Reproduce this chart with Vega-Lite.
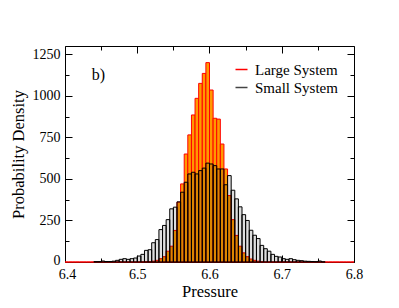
{
  "$schema": "https://vega.github.io/schema/vega-lite/v6.json",
  "width": 289,
  "height": 216,
  "autosize": {"type": "none"},
  "padding": {"left": 65, "top": 46, "right": 45, "bottom": 46},
  "background": "white",
  "config": {
    "font": "Liberation Serif",
    "view": {"stroke": "black", "strokeWidth": 1},
    "axis": {
      "domain": false,
      "grid": false,
      "tickColor": "black",
      "tickWidth": 1,
      "labelColor": "black",
      "titleColor": "black",
      "labelFont": "Liberation Serif",
      "titleFont": "Liberation Serif",
      "labelFontSize": 14,
      "titleFontSize": 16.5,
      "titleFontWeight": "normal",
      "labelFlush": false,
      "labelOverlap": false
    }
  },
  "data": {
    "values": [
      {"series": "Large System", "lo": 6.400, "hi": 6.405, "density": 0},
      {"series": "Large System", "lo": 6.405, "hi": 6.410, "density": 0},
      {"series": "Large System", "lo": 6.410, "hi": 6.415, "density": 0},
      {"series": "Large System", "lo": 6.415, "hi": 6.420, "density": 0},
      {"series": "Large System", "lo": 6.420, "hi": 6.425, "density": 0},
      {"series": "Large System", "lo": 6.425, "hi": 6.430, "density": 0},
      {"series": "Large System", "lo": 6.430, "hi": 6.435, "density": 0},
      {"series": "Large System", "lo": 6.435, "hi": 6.440, "density": 0},
      {"series": "Large System", "lo": 6.440, "hi": 6.445, "density": 0},
      {"series": "Large System", "lo": 6.445, "hi": 6.450, "density": 0},
      {"series": "Large System", "lo": 6.450, "hi": 6.455, "density": 0},
      {"series": "Large System", "lo": 6.455, "hi": 6.460, "density": 0},
      {"series": "Large System", "lo": 6.460, "hi": 6.465, "density": 0},
      {"series": "Large System", "lo": 6.465, "hi": 6.470, "density": 0},
      {"series": "Large System", "lo": 6.470, "hi": 6.475, "density": 0},
      {"series": "Large System", "lo": 6.475, "hi": 6.480, "density": 0},
      {"series": "Large System", "lo": 6.480, "hi": 6.485, "density": 0},
      {"series": "Large System", "lo": 6.485, "hi": 6.490, "density": 0},
      {"series": "Large System", "lo": 6.490, "hi": 6.495, "density": 0},
      {"series": "Large System", "lo": 6.495, "hi": 6.500, "density": 0},
      {"series": "Large System", "lo": 6.500, "hi": 6.505, "density": 0},
      {"series": "Large System", "lo": 6.505, "hi": 6.510, "density": 1},
      {"series": "Large System", "lo": 6.510, "hi": 6.515, "density": 2},
      {"series": "Large System", "lo": 6.515, "hi": 6.520, "density": 3},
      {"series": "Large System", "lo": 6.520, "hi": 6.525, "density": 5},
      {"series": "Large System", "lo": 6.525, "hi": 6.530, "density": 10},
      {"series": "Large System", "lo": 6.530, "hi": 6.535, "density": 20},
      {"series": "Large System", "lo": 6.535, "hi": 6.540, "density": 32},
      {"series": "Large System", "lo": 6.540, "hi": 6.545, "density": 65},
      {"series": "Large System", "lo": 6.545, "hi": 6.550, "density": 95},
      {"series": "Large System", "lo": 6.550, "hi": 6.555, "density": 190},
      {"series": "Large System", "lo": 6.555, "hi": 6.560, "density": 360},
      {"series": "Large System", "lo": 6.560, "hi": 6.565, "density": 470},
      {"series": "Large System", "lo": 6.565, "hi": 6.570, "density": 650},
      {"series": "Large System", "lo": 6.570, "hi": 6.575, "density": 765},
      {"series": "Large System", "lo": 6.575, "hi": 6.580, "density": 885},
      {"series": "Large System", "lo": 6.580, "hi": 6.585, "density": 985},
      {"series": "Large System", "lo": 6.585, "hi": 6.590, "density": 1075},
      {"series": "Large System", "lo": 6.590, "hi": 6.595, "density": 1135},
      {"series": "Large System", "lo": 6.595, "hi": 6.600, "density": 1200},
      {"series": "Large System", "lo": 6.600, "hi": 6.605, "density": 1035},
      {"series": "Large System", "lo": 6.605, "hi": 6.610, "density": 865},
      {"series": "Large System", "lo": 6.610, "hi": 6.615, "density": 860},
      {"series": "Large System", "lo": 6.615, "hi": 6.620, "density": 710},
      {"series": "Large System", "lo": 6.620, "hi": 6.625, "density": 560},
      {"series": "Large System", "lo": 6.625, "hi": 6.630, "density": 400},
      {"series": "Large System", "lo": 6.630, "hi": 6.635, "density": 255},
      {"series": "Large System", "lo": 6.635, "hi": 6.640, "density": 160},
      {"series": "Large System", "lo": 6.640, "hi": 6.645, "density": 95},
      {"series": "Large System", "lo": 6.645, "hi": 6.650, "density": 55},
      {"series": "Large System", "lo": 6.650, "hi": 6.655, "density": 32},
      {"series": "Large System", "lo": 6.655, "hi": 6.660, "density": 18},
      {"series": "Large System", "lo": 6.660, "hi": 6.665, "density": 10},
      {"series": "Large System", "lo": 6.665, "hi": 6.670, "density": 5},
      {"series": "Large System", "lo": 6.670, "hi": 6.675, "density": 2},
      {"series": "Large System", "lo": 6.675, "hi": 6.680, "density": 0},
      {"series": "Large System", "lo": 6.680, "hi": 6.685, "density": 0},
      {"series": "Large System", "lo": 6.685, "hi": 6.690, "density": 0},
      {"series": "Large System", "lo": 6.690, "hi": 6.695, "density": 0},
      {"series": "Large System", "lo": 6.695, "hi": 6.700, "density": 0},
      {"series": "Large System", "lo": 6.700, "hi": 6.705, "density": 0},
      {"series": "Large System", "lo": 6.705, "hi": 6.710, "density": 0},
      {"series": "Large System", "lo": 6.710, "hi": 6.715, "density": 0},
      {"series": "Large System", "lo": 6.715, "hi": 6.720, "density": 0},
      {"series": "Large System", "lo": 6.720, "hi": 6.725, "density": 0},
      {"series": "Large System", "lo": 6.725, "hi": 6.730, "density": 0},
      {"series": "Large System", "lo": 6.730, "hi": 6.735, "density": 0},
      {"series": "Large System", "lo": 6.735, "hi": 6.740, "density": 0},
      {"series": "Large System", "lo": 6.740, "hi": 6.745, "density": 0},
      {"series": "Large System", "lo": 6.745, "hi": 6.750, "density": 0},
      {"series": "Large System", "lo": 6.750, "hi": 6.755, "density": 0},
      {"series": "Large System", "lo": 6.755, "hi": 6.760, "density": 0},
      {"series": "Large System", "lo": 6.760, "hi": 6.765, "density": 0},
      {"series": "Large System", "lo": 6.765, "hi": 6.770, "density": 0},
      {"series": "Large System", "lo": 6.770, "hi": 6.775, "density": 0},
      {"series": "Large System", "lo": 6.775, "hi": 6.780, "density": 0},
      {"series": "Large System", "lo": 6.780, "hi": 6.785, "density": 0},
      {"series": "Large System", "lo": 6.785, "hi": 6.790, "density": 0},
      {"series": "Large System", "lo": 6.790, "hi": 6.795, "density": 0},
      {"series": "Large System", "lo": 6.795, "hi": 6.800, "density": 0},
      {"series": "Small System", "lo": 6.440, "hi": 6.445, "density": 2},
      {"series": "Small System", "lo": 6.445, "hi": 6.450, "density": 2},
      {"series": "Small System", "lo": 6.450, "hi": 6.455, "density": 6},
      {"series": "Small System", "lo": 6.455, "hi": 6.460, "density": 3},
      {"series": "Small System", "lo": 6.460, "hi": 6.465, "density": 3},
      {"series": "Small System", "lo": 6.465, "hi": 6.470, "density": 5},
      {"series": "Small System", "lo": 6.470, "hi": 6.475, "density": 10},
      {"series": "Small System", "lo": 6.475, "hi": 6.480, "density": 16},
      {"series": "Small System", "lo": 6.480, "hi": 6.485, "density": 20},
      {"series": "Small System", "lo": 6.485, "hi": 6.490, "density": 16},
      {"series": "Small System", "lo": 6.490, "hi": 6.495, "density": 20},
      {"series": "Small System", "lo": 6.495, "hi": 6.500, "density": 24},
      {"series": "Small System", "lo": 6.500, "hi": 6.505, "density": 36},
      {"series": "Small System", "lo": 6.505, "hi": 6.510, "density": 46},
      {"series": "Small System", "lo": 6.510, "hi": 6.515, "density": 70},
      {"series": "Small System", "lo": 6.515, "hi": 6.520, "density": 74},
      {"series": "Small System", "lo": 6.520, "hi": 6.525, "density": 116},
      {"series": "Small System", "lo": 6.525, "hi": 6.530, "density": 135},
      {"series": "Small System", "lo": 6.530, "hi": 6.535, "density": 195},
      {"series": "Small System", "lo": 6.535, "hi": 6.540, "density": 220},
      {"series": "Small System", "lo": 6.540, "hi": 6.545, "density": 255},
      {"series": "Small System", "lo": 6.545, "hi": 6.550, "density": 320},
      {"series": "Small System", "lo": 6.550, "hi": 6.555, "density": 330},
      {"series": "Small System", "lo": 6.555, "hi": 6.560, "density": 362},
      {"series": "Small System", "lo": 6.560, "hi": 6.565, "density": 420},
      {"series": "Small System", "lo": 6.565, "hi": 6.570, "density": 480},
      {"series": "Small System", "lo": 6.570, "hi": 6.575, "density": 530},
      {"series": "Small System", "lo": 6.575, "hi": 6.580, "density": 540},
      {"series": "Small System", "lo": 6.580, "hi": 6.585, "density": 530},
      {"series": "Small System", "lo": 6.585, "hi": 6.590, "density": 550},
      {"series": "Small System", "lo": 6.590, "hi": 6.595, "density": 565},
      {"series": "Small System", "lo": 6.595, "hi": 6.600, "density": 595},
      {"series": "Small System", "lo": 6.600, "hi": 6.605, "density": 590},
      {"series": "Small System", "lo": 6.605, "hi": 6.610, "density": 580},
      {"series": "Small System", "lo": 6.610, "hi": 6.615, "density": 560},
      {"series": "Small System", "lo": 6.615, "hi": 6.620, "density": 560},
      {"series": "Small System", "lo": 6.620, "hi": 6.625, "density": 465},
      {"series": "Small System", "lo": 6.625, "hi": 6.630, "density": 520},
      {"series": "Small System", "lo": 6.630, "hi": 6.635, "density": 432},
      {"series": "Small System", "lo": 6.635, "hi": 6.640, "density": 380},
      {"series": "Small System", "lo": 6.640, "hi": 6.645, "density": 332},
      {"series": "Small System", "lo": 6.645, "hi": 6.650, "density": 285},
      {"series": "Small System", "lo": 6.650, "hi": 6.655, "density": 250},
      {"series": "Small System", "lo": 6.655, "hi": 6.660, "density": 191},
      {"series": "Small System", "lo": 6.660, "hi": 6.665, "density": 161},
      {"series": "Small System", "lo": 6.665, "hi": 6.670, "density": 141},
      {"series": "Small System", "lo": 6.670, "hi": 6.675, "density": 100},
      {"series": "Small System", "lo": 6.675, "hi": 6.680, "density": 80},
      {"series": "Small System", "lo": 6.680, "hi": 6.685, "density": 65},
      {"series": "Small System", "lo": 6.685, "hi": 6.690, "density": 46},
      {"series": "Small System", "lo": 6.690, "hi": 6.695, "density": 34},
      {"series": "Small System", "lo": 6.695, "hi": 6.700, "density": 30},
      {"series": "Small System", "lo": 6.700, "hi": 6.705, "density": 20},
      {"series": "Small System", "lo": 6.705, "hi": 6.710, "density": 16},
      {"series": "Small System", "lo": 6.710, "hi": 6.715, "density": 20},
      {"series": "Small System", "lo": 6.715, "hi": 6.720, "density": 14},
      {"series": "Small System", "lo": 6.720, "hi": 6.725, "density": 10},
      {"series": "Small System", "lo": 6.725, "hi": 6.730, "density": 8},
      {"series": "Small System", "lo": 6.730, "hi": 6.735, "density": 5},
      {"series": "Small System", "lo": 6.735, "hi": 6.740, "density": 4},
      {"series": "Small System", "lo": 6.740, "hi": 6.745, "density": 3},
      {"series": "Small System", "lo": 6.745, "hi": 6.750, "density": 2},
      {"series": "Small System", "lo": 6.750, "hi": 6.755, "density": 6},
      {"series": "Small System", "lo": 6.755, "hi": 6.760, "density": 1}
    ]
  },
  "layer": [
    {
      "transform": [{"filter": "datum.series === 'Large System'"}],
      "mark": {"type": "bar", "fill": "#ff9900", "strokeWidth": 1},
      "encoding": {
        "x": {
          "field": "lo", "type": "quantitative",
          "scale": {"domain": [6.4, 6.8], "nice": false, "zero": false},
          "axis": {"orient": "bottom", "values": [6.4, 6.5, 6.6, 6.7, 6.8], "format": ".1f", "tickSize": -7, "labelPadding": 12, "title": "Pressure", "titlePadding": 2,
                   "labelOffset": {"condition": {"test": "datum.value <= 6.41", "value": 2}, "value": 0}}
        },
        "x2": {"field": "hi"},
        "y": {
          "field": "density", "type": "quantitative",
          "scale": {"domain": [0, 1300], "nice": false},
          "axis": {"orient": "left", "values": [0, 250, 500, 750, 1000, 1250], "format": "d", "tickSize": -7, "labelPadding": 12, "title": "Probability Density", "titlePadding": 6,
                   "labelOffset": {"condition": {"test": "datum.value === 0", "value": -2}, "value": 0}}
        },
        "y2": {"datum": 0},
        "stroke": {
          "field": "series", "type": "nominal",
          "scale": {"domain": ["Large System", "Small System"], "range": ["#ff0000", "#444444"]},
          "legend": {
            "title": null, "orient": "top-right", "offset": 16,
            "symbolType": "stroke", "symbolSize": 144, "symbolStrokeWidth": 1.5,
            "symbolFillColor": "transparent",
            "labelFont": "Liberation Serif", "labelFontSize": 15, "labelColor": "black",
            "labelOffset": 6, "rowPadding": 2
          }
        }
      }
    },
    {
      "transform": [{"filter": "datum.series === 'Small System'"}],
      "mark": {"type": "bar", "fill": "black", "fillOpacity": 0.13, "stroke": "black", "strokeWidth": 1},
      "encoding": {
        "x": {"field": "lo", "type": "quantitative", "axis": {"orient": "top", "values": [6.4, 6.5, 6.6, 6.7, 6.8], "tickSize": -7, "labels": false, "title": null}},
        "x2": {"field": "hi"},
        "y": {"field": "density", "type": "quantitative", "axis": {"orient": "right", "values": [0, 250, 500, 750, 1000, 1250], "tickSize": -7, "labels": false, "title": null}},
        "y2": {"datum": 0}
      }
    },
    {
      "data": {"values": [{"label": "b)"}]},
      "mark": {"type": "text", "fontSize": 16, "font": "Liberation Serif", "align": "left", "baseline": "alphabetic", "color": "black"},
      "encoding": {
        "text": {"field": "label"},
        "x": {"datum": 6.437, "type": "quantitative", "axis": {"orient": "bottom", "values": [6.45, 6.55, 6.65, 6.75], "tickSize": -4, "labels": false, "title": null}},
        "y": {"datum": 1095, "type": "quantitative", "axis": {"orient": "left", "values": [125, 375, 625, 875, 1125], "tickSize": -4, "labels": false, "title": null}}
      }
    },
    {
      "transform": [{"filter": "datum.series === 'Small System'"}],
      "mark": {"type": "tick", "opacity": 0},
      "encoding": {
        "x": {"field": "lo", "type": "quantitative", "axis": {"orient": "top", "values": [6.45, 6.55, 6.65, 6.75], "tickSize": -4, "labels": false, "title": null}},
        "y": {"field": "density", "type": "quantitative", "axis": {"orient": "right", "values": [125, 375, 625, 875, 1125], "tickSize": -4, "labels": false, "title": null}}
      }
    }
  ],
  "resolve": {"axis": {"x": "independent", "y": "independent"}}
}
